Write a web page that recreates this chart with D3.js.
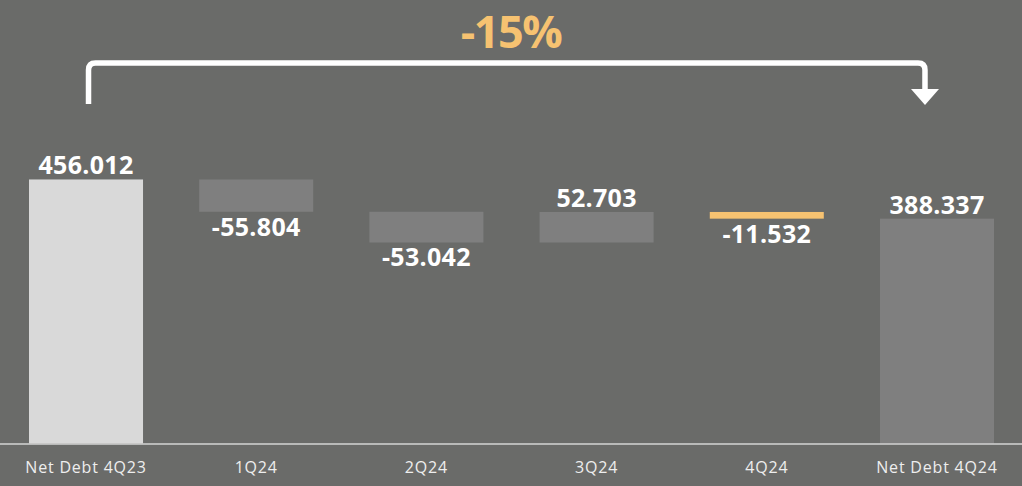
<!DOCTYPE html>
<html>
<head>
<meta charset="utf-8">
<script src="https://cdn.jsdelivr.net/npm/d3@7"></script>
<style>
  html, body { margin: 0; padding: 0; background: #6a6b69; }
  svg { display: block; }
</style>
</head>
<body>
<svg id="chart" width="1022" height="486"></svg>
<script>
// Net debt bridge, 4Q23 -> 4Q24
const categories = ["Net Debt 4Q23", "1Q24", "2Q24", "3Q24", "4Q24", "Net Debt 4Q24"];
const values = [456.012, -55.804, -53.042, 52.703, -11.532, 388.337];
const kinds = ["total", "delta", "delta", "delta", "delta", "total"];
const valueLabels = ["456.012", "-55.804", "-53.042", "52.703", "-11.532", "388.337"];
const changeLabel = "-15%";

const W = 1022, H = 486;
const svg = d3.select("#chart");

const x = d3.scaleBand().domain(categories).range([29, 994]).paddingInner(0.33).paddingOuter(0);
const y = d3.scaleLinear().domain([0, 500]).range([443.5, 154]);

// running totals for the floating bars
let run = 0;
const rows = categories.map((c, i) => {
  let y0, y1;
  if (kinds[i] === "total") { y0 = 0; y1 = values[i]; run = values[i]; }
  else { y0 = run; y1 = run + values[i]; run = y1; }
  return { c, v: values[i], kind: kinds[i], lo: Math.min(y0, y1), hi: Math.max(y0, y1), label: valueLabels[i], i };
});

const fillFor = d => d.i === 0 ? "#d9d9d9" : (d.c === "4Q24" ? "#f6c271" : "#7f7f7f");

svg.append("g").selectAll("rect").data(rows).join("rect")
  .attr("x", d => x(d.c))
  .attr("width", x.bandwidth())
  .attr("y", d => y(d.hi))
  .attr("height", d => y(d.lo) - y(d.hi))
  .attr("fill", fillFor);

// value labels: above for totals/increases, below for decreases
svg.append("g").selectAll("text").data(rows).join("text")
  .attr("x", d => x(d.c) + x.bandwidth() / 2)
  .attr("y", d => d.v >= 0 ? y(d.hi) - 5 : y(d.lo) + 24)
  .attr("text-anchor", "middle")
  .attr("font-family", "'Open Sans', sans-serif")
  .attr("font-weight", 700)
  .attr("font-size", 25)
  .attr("letter-spacing", 0.3)
  .attr("fill", "#ffffff")
  .text(d => d.label);

// baseline
svg.append("line")
  .attr("x1", 0).attr("x2", W)
  .attr("y1", y(0) + 0.5).attr("y2", y(0) + 0.5)
  .attr("stroke", "#d4d4d4").attr("stroke-width", 1.5);

// category axis
const axis = svg.append("g").attr("transform", `translate(0,${y(0)})`)
  .call(d3.axisBottom(x).tickSize(0).tickPadding(18));
axis.select(".domain").remove();
axis.selectAll("text")
  .attr("font-family", "'Open Sans', sans-serif")
  .attr("font-size", 16)
  .attr("fill", "#eeeeee")
  .attr("letter-spacing", 0.8);

// bracket arrow from first to last total
const xl = x(categories[0]) + x.bandwidth() / 2 + 2.5;
const xr = x(categories[categories.length - 1]) + x.bandwidth() / 2 - 12;
const yTop = 63, yBottom = 104, r = 7, arrowTop = 89, arrowTip = 105;
svg.append("path")
  .attr("d", `M${xl},${yBottom} V${yTop + r} Q${xl},${yTop} ${xl + r},${yTop} H${xr - r} Q${xr},${yTop} ${xr},${yTop + r} V${arrowTop + 2}`)
  .attr("fill", "none").attr("stroke", "#ffffff").attr("stroke-width", 5.5);
svg.append("path")
  .attr("d", `M${xr - 14},${arrowTop} L${xr + 14},${arrowTop} L${xr},${arrowTip} Z`)
  .attr("fill", "#ffffff");

svg.append("text")
  .attr("x", W / 2).attr("y", 48)
  .attr("text-anchor", "middle")
  .attr("font-family", "'Open Sans', sans-serif")
  .attr("font-weight", 700)
  .attr("font-size", 45)
  .attr("letter-spacing", -1.5)
  .attr("fill", "#f6c271")
  .text(changeLabel);
</script>
</body>
</html>
